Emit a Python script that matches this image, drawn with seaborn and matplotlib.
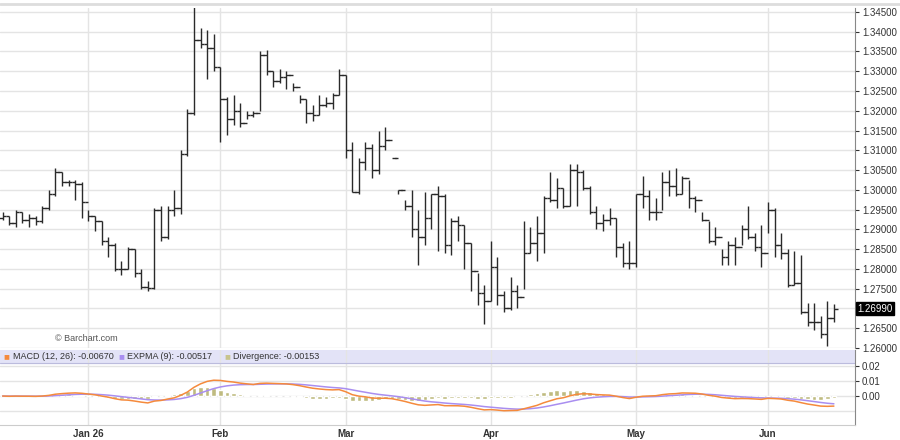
import numpy as np
import pandas as pd
import matplotlib
matplotlib.use("Agg")
import matplotlib.pyplot as plt
import seaborn as sns

# daily closes / highs / lows, month by month
dec_close = [1.2935, 1.2915, 1.2945, 1.2925, 1.2930, 1.2920, 1.2955, 1.2990, 1.3045, 1.3020, 1.3020, 1.3015, 1.2970]
dec_high = [1.2945, 1.2935, 1.2950, 1.2945, 1.2940, 1.2935, 1.2960, 1.3000, 1.3055, 1.3045, 1.3025, 1.3025, 1.3020]
dec_low = [1.2925, 1.2910, 1.2905, 1.2915, 1.2905, 1.2910, 1.2915, 1.2950, 1.2985, 1.3010, 1.3010, 1.2975, 1.2930]

jan_close = [1.2935, 1.2920, 1.2870, 1.2860, 1.2800, 1.2800, 1.2850, 1.2790, 1.2755, 1.2752, 1.2950, 1.2880, 1.2950, 1.2955, 1.3090, 1.3195, 1.3380, 1.3370, 1.3360, 1.3310]
jan_high = [1.2950, 1.2935, 1.2920, 1.2880, 1.2865, 1.2820, 1.2855, 1.2850, 1.2800, 1.2770, 1.2955, 1.2960, 1.2960, 1.3000, 1.3100, 1.3205, 1.3465, 1.3410, 1.3405, 1.3395]
jan_low = [1.2920, 1.2895, 1.2860, 1.2830, 1.2795, 1.2785, 1.2800, 1.2780, 1.2750, 1.2745, 1.2750, 1.2870, 1.2875, 1.2935, 1.2940, 1.3085, 1.3190, 1.3360, 1.3280, 1.3300]

feb_close = [1.3230, 1.3180, 1.3200, 1.3170, 1.3190, 1.3195, 1.3340, 1.3300, 1.3275, 1.3285, 1.3290, 1.3260, 1.3230, 1.3195, 1.3190, 1.3215, 1.3220, 1.3240, 1.3290]
feb_high = [1.3310, 1.3235, 1.3240, 1.3220, 1.3200, 1.3200, 1.3350, 1.3355, 1.3300, 1.3305, 1.3300, 1.3270, 1.3240, 1.3230, 1.3215, 1.3240, 1.3235, 1.3245, 1.3305]
feb_low = [1.3120, 1.3140, 1.3165, 1.3160, 1.3180, 1.3185, 1.3200, 1.3290, 1.3260, 1.3270, 1.3255, 1.3250, 1.3220, 1.3170, 1.3175, 1.3190, 1.3210, 1.3205, 1.3240]

mar_close = [1.3100, 1.2995, 1.3070, 1.3105, 1.3050, 1.3110, 1.3125, 1.3080, 1.3000, 1.2960, 1.2900, 1.2880, 1.2930, 1.2990, 1.2985, 1.2860, 1.2920, 1.2910, 1.2865, 1.2795, 1.2740, 1.2720]
mar_high = [1.3290, 1.3120, 1.3080, 1.3120, 1.3115, 1.3150, 1.3160, 1.3080, 1.3000, 1.2975, 1.3000, 1.2950, 1.2995, 1.2990, 1.3010, 1.2990, 1.2930, 1.2935, 1.2910, 1.2865, 1.2790, 1.2760]
mar_low = [1.3080, 1.2995, 1.2990, 1.3050, 1.3030, 1.3040, 1.3100, 1.3080, 1.2990, 1.2950, 1.2880, 1.2810, 1.2860, 1.2900, 1.2845, 1.2840, 1.2835, 1.2870, 1.2800, 1.2745, 1.2710, 1.2660]

apr_close = [1.2805, 1.2735, 1.2700, 1.2745, 1.2730, 1.2840, 1.2865, 1.2890, 1.2980, 1.2975, 1.3005, 1.2960, 1.3050, 1.3045, 1.3005, 1.2945, 1.2915, 1.2925, 1.2930, 1.2855, 1.2815, 1.2815]
apr_high = [1.2870, 1.2830, 1.2745, 1.2780, 1.2760, 1.2920, 1.2905, 1.2935, 1.2985, 1.3045, 1.3030, 1.3005, 1.3065, 1.3065, 1.3050, 1.3010, 1.2960, 1.2940, 1.2955, 1.2930, 1.2865, 1.2870]
apr_low = [1.2720, 1.2710, 1.2690, 1.2695, 1.2700, 1.2750, 1.2840, 1.2820, 1.2840, 1.2970, 1.2955, 1.2955, 1.2960, 1.2960, 1.3000, 1.2940, 1.2900, 1.2895, 1.2910, 1.2830, 1.2805, 1.2800]

may_close = [1.2990, 1.2985, 1.2945, 1.2945, 1.3020, 1.3010, 1.2990, 1.3030, 1.2980, 1.2975, 1.2925, 1.2870, 1.2880, 1.2830, 1.2860, 1.2855, 1.2900, 1.2880, 1.2855, 1.2840]
may_high = [1.2990, 1.3035, 1.3000, 1.2980, 1.3045, 1.3050, 1.3055, 1.3035, 1.3025, 1.2985, 1.2945, 1.2920, 1.2905, 1.2850, 1.2870, 1.2880, 1.2910, 1.2960, 1.2890, 1.2910]
may_low = [1.2805, 1.2955, 1.2925, 1.2925, 1.2950, 1.2985, 1.2985, 1.2990, 1.2955, 1.2945, 1.2920, 1.2865, 1.2860, 1.2810, 1.2810, 1.2810, 1.2860, 1.2875, 1.2845, 1.2805]

jun_close = [1.2950, 1.2860, 1.2840, 1.2760, 1.2765, 1.2690, 1.2665, 1.2665, 1.2635, 1.2675, 1.2699]
jun_high = [1.2970, 1.2955, 1.2890, 1.2850, 1.2845, 1.2835, 1.2715, 1.2715, 1.2680, 1.2720, 1.2712]
jun_low = [1.2890, 1.2830, 1.2825, 1.2755, 1.2760, 1.2685, 1.2655, 1.2645, 1.2625, 1.2605, 1.2665]

first_open = 1.2930
holidays = ["2025-12-25", "2026-01-01", "2026-01-19", "2026-02-16", "2026-05-25"]
month_labels = ["Jan 26", "Feb", "Mar", "Apr", "May", "Jun"]
price_ticks = [1.26, 1.265, 1.27, 1.275, 1.28, 1.285, 1.29, 1.295, 1.30, 1.305,
               1.31, 1.315, 1.32, 1.325, 1.33, 1.335, 1.34, 1.345]
macd_ticks = [0.02, 0.01, 0.00]

close = dec_close + jan_close + feb_close + mar_close + apr_close + may_close + jun_close
high = dec_high + jan_high + feb_high + mar_high + apr_high + may_high + jun_high
low = dec_low + jan_low + feb_low + mar_low + apr_low + may_low + jun_low

day = pd.offsets.CustomBusinessDay(holidays=holidays)
dates = pd.date_range("2025-12-12", periods=len(close), freq=day)
df = pd.DataFrame({"date": dates, "close": close, "high": high, "low": low})
df["open"] = df["close"].shift(1).fillna(first_open)
df["i"] = np.arange(len(df))

# MACD(12, 26) with 9-day signal line
ema12 = df["close"].ewm(span=12, adjust=False).mean()
ema26 = df["close"].ewm(span=26, adjust=False).mean()
df["macd"] = ema12 - ema26
df["signal"] = df["macd"].ewm(span=9, adjust=False).mean()
df["div"] = df["macd"] - df["signal"]

sns.set_style("white")
plt.rcParams["font.family"] = ["Liberation Sans", "DejaVu Sans"]

fig = plt.figure(figsize=(9, 4.4), dpi=100)
W, H = 900, 440
ax = fig.add_axes([0, 1 - 348 / H, 855 / W, 340 / H])
ax2 = fig.add_axes([0, 1 - 425 / H, 855 / W, 75 / H])

grid_c = "#e4e4e4"
month_pos = [df.loc[(df["date"].dt.month == m) & (df["date"].dt.year == 2026), "i"].iloc[0]
             for m in [1, 2, 3, 4, 5, 6]]
xlim = (-0.4, 129.2)

# price bars
ax.vlines(df["i"], df["low"], df["high"], color="#2a2a2a", lw=1.0)
ax.hlines(df["open"], df["i"] - 0.55, df["i"], color="#2a2a2a", lw=1.0)
ax.hlines(df["close"], df["i"], df["i"] + 0.55, color="#2a2a2a", lw=1.0)
ax.set_xlim(*xlim)
ax.set_ylim(1.2600, 1.3460)
ax.set_yticks(price_ticks)
ax.set_yticklabels([f"{t:.5f}" for t in price_ticks])
ax.yaxis.tick_right()
ax.set_xticks(month_pos)
ax.set_xticklabels([])
ax.grid(True, color=grid_c, lw=1)
ax.tick_params(axis="y", labelsize=7, length=3, pad=2, colors="#333333", direction="out", right=True)
ax.tick_params(axis="x", length=0)
for s in ["top", "left", "bottom"]:
    ax.spines[s].set_visible(False)
ax.spines["right"].set_color("#888888")
ax.text(8, 1.2618, "© Barchart.com", fontsize=6.5, color="#555555")
last = df["close"].iloc[-1]
lt = ax.text(1.003, last, f"{last:.5f}", transform=ax.get_yaxis_transform(), fontsize=7,
             color="white", va="center", ha="left", zorder=10, clip_on=False,
             bbox=dict(boxstyle="square,pad=0.15", fc="black", ec="black"))
# the last-price box covers the 1.27000 tick label, as on the reference
for lbl, t in zip(ax.get_yticklabels(), price_ticks):
    if abs(t - 1.27) < 1e-9:
        lbl.set_visible(False)

# MACD panel
ax2.bar(df["i"], df["div"], width=0.7, color="#bfbb80")
sns.lineplot(data=df, x="i", y="signal", ax=ax2, color="#a98ef0", lw=1.1)
sns.lineplot(data=df, x="i", y="macd", ax=ax2, color="#f58a3c", lw=1.1)
ax2.set_xlim(*xlim)
ax2.set_ylim(-0.0193, 0.0307)
ax2.axhspan(0.0220, 0.0307, color="#e3e3f7", zorder=0)
ax2.axhline(0.0220, color="#bbbbdd", lw=0.8)
ax2.set_yticks(macd_ticks)
ax2.set_yticklabels([f"{t:.2f}" for t in macd_ticks])
ax2.yaxis.tick_right()
ax2.set_xticks(month_pos)
ax2.set_xticklabels(month_labels)
ax2.set_xlabel("")
ax2.set_ylabel("")
ax2.grid(True, axis="x", color=grid_c, lw=1)
for t in macd_ticks:
    ax2.axhline(t, color=grid_c, lw=1, zorder=0)
ax2.axhline(-0.01, color=grid_c, lw=1, zorder=0)
ax2.tick_params(axis="y", labelsize=7, length=3, pad=2, colors="#333333", right=True)
ax2.tick_params(axis="x", labelsize=7, length=0, pad=3, colors="#333333")
for lbl in ax2.get_xticklabels():
    lbl.set_fontweight("bold")
for s in ["top", "left"]:
    ax2.spines[s].set_visible(False)
ax2.spines["right"].set_color("#888888")
ax2.spines["bottom"].set_color("#cccccc")

leg = [("#f58a3c", f"MACD (12, 26): {df['macd'].iloc[-1]:.5f}", 0.004),
       ("#a98ef0", f"EXPMA (9): {df['signal'].iloc[-1]:.5f}", 0.138),
       ("#c8c48c", f"Divergence: {df['div'].iloc[-1]:.5f}", 0.262)]
for col, txt, xpos in leg:
    ax2.text(xpos, 0.92, "■", transform=ax2.transAxes, color=col, fontsize=7, va="center")
    ax2.text(xpos + 0.011, 0.92, txt, transform=ax2.transAxes, color="#333333", fontsize=6.5, va="center")

fig.add_artist(plt.Line2D([0, 1], [1 - 4 / H, 1 - 4 / H], color="#dddddd", lw=2))
fig.savefig("out.png", dpi=100)
